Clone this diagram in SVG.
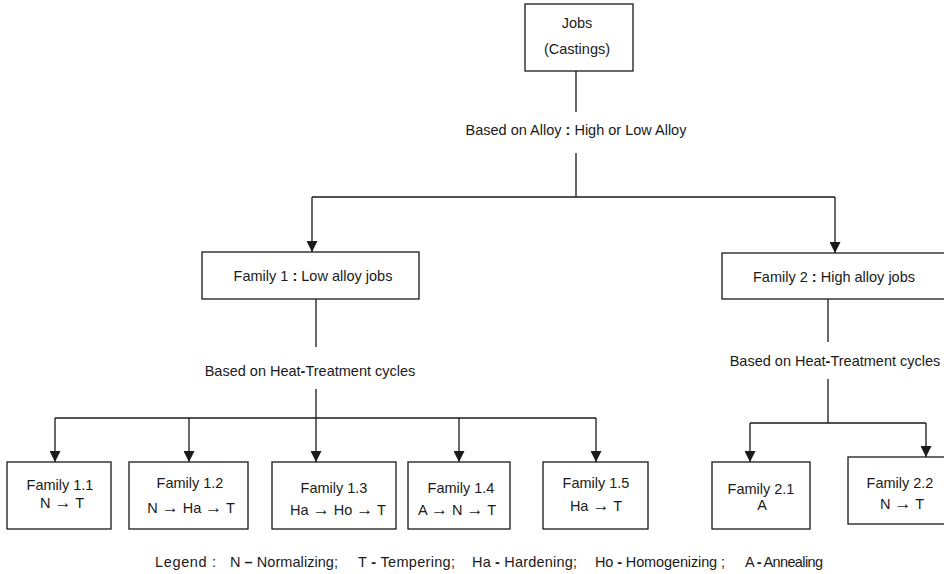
<svg xmlns="http://www.w3.org/2000/svg" width="944" height="574" viewBox="0 0 944 574">
<defs>
<style>
text{font-family:"Liberation Sans",Arial,sans-serif;font-size:14.5px;fill:#1a1a1a;text-anchor:middle}
.b{font-weight:bold}
.ar{font-family:"Liberation Serif",serif;font-size:17px}
.box{fill:#fff;stroke:#1a1a1a;stroke-width:1.3}
.ln{fill:none;stroke:#1a1a1a;stroke-width:1.3}
.legend text{text-anchor:start}
</style>
<marker id="ah" viewBox="0 0 10 10" refX="10" refY="5" markerWidth="11" markerHeight="11" markerUnits="userSpaceOnUse" orient="auto">
<path d="M0,0 L10,5 L0,10 z" fill="#1a1a1a"/>
</marker>
</defs>
<rect width="944" height="574" fill="#fff"/>

<g id="connectors">
<path class="ln" d="M576,71 V112"/>
<path class="ln" d="M576,153 V197 M312,197 H835"/>
<path class="ln" d="M312,197 V252" marker-end="url(#ah)"/>
<path class="ln" d="M835,197 V253" marker-end="url(#ah)"/>
<path class="ln" d="M316,299 V347"/>
<path class="ln" d="M316,389 V418 M55,418 H596"/>
<path class="ln" d="M55,418 V462" marker-end="url(#ah)"/>
<path class="ln" d="M189,418 V462" marker-end="url(#ah)"/>
<path class="ln" d="M316,418 V462" marker-end="url(#ah)"/>
<path class="ln" d="M459,418 V462" marker-end="url(#ah)"/>
<path class="ln" d="M596,418 V462" marker-end="url(#ah)"/>
<path class="ln" d="M828,299 V342"/>
<path class="ln" d="M828,379 V423 M750,423 H926"/>
<path class="ln" d="M750,423 V462" marker-end="url(#ah)"/>
<path class="ln" d="M926,423 V457" marker-end="url(#ah)"/>
</g>

<g id="label-alloy"><text x="576" y="135">Based on Alloy <tspan class="b">:</tspan> High or Low Alloy</text></g>
<g id="label-ht1"><text x="310" y="376">Based on Heat<tspan class="b">-</tspan>Treatment cycles</text></g>
<g id="label-ht2"><text x="835" y="366">Based on Heat<tspan class="b">-</tspan>Treatment cycles</text></g>

<g id="jobs">
<rect class="box" x="525" y="4" width="108" height="67"/>
<text x="577" y="28">Jobs</text>
<text x="577" y="54">(Castings)</text>
</g>

<g id="family1">
<rect class="box" x="202" y="252" width="217" height="47"/>
<text x="313" y="281">Family 1 <tspan class="b">:</tspan> Low alloy jobs</text>
</g>

<g id="family2">
<rect class="box" x="722" y="253" width="230" height="46"/>
<text x="834" y="282">Family 2 <tspan class="b">:</tspan> High alloy jobs</text>
</g>

<g id="family1-1">
<rect class="box" x="7" y="462" width="104" height="67"/>
<text x="60" y="490">Family 1.1</text>
<text x="62" y="508">N <tspan class="ar">→</tspan> T</text>
</g>

<g id="family1-2">
<rect class="box" x="129" y="462" width="119" height="67"/>
<text x="190" y="488">Family 1.2</text>
<text x="191" y="513">N <tspan class="ar">→</tspan> Ha <tspan class="ar">→</tspan> T</text>
</g>

<g id="family1-3">
<rect class="box" x="272" y="462" width="124" height="67"/>
<text x="334" y="493">Family 1.3</text>
<text x="338" y="515">Ha <tspan class="ar">→</tspan> Ho <tspan class="ar">→</tspan> T</text>
</g>

<g id="family1-4">
<rect class="box" x="408" y="462" width="102" height="67"/>
<text x="461" y="493">Family 1.4</text>
<text x="457" y="515">A <tspan class="ar">→</tspan> N <tspan class="ar">→</tspan> T</text>
</g>

<g id="family1-5">
<rect class="box" x="543" y="462" width="105" height="67"/>
<text x="596" y="488">Family 1.5</text>
<text x="596" y="511">Ha <tspan class="ar">→</tspan> T</text>
</g>

<g id="family2-1">
<rect class="box" x="712" y="462" width="98" height="67"/>
<text x="761" y="494">Family 2.1</text>
<text x="762" y="510">A</text>
</g>

<g id="family2-2">
<rect class="box" x="848" y="457" width="104" height="67"/>
<text x="900" y="488">Family 2.2</text>
<text x="902" y="509">N <tspan class="ar">→</tspan> T</text>
</g>

<g id="legend" class="legend">
<text x="155" y="567" textLength="61" lengthAdjust="spacing">Legend :</text>
<text x="230" y="567" textLength="108" lengthAdjust="spacing">N <tspan class="b">–</tspan> Normalizing;</text>
<text x="358" y="567" textLength="97" lengthAdjust="spacing">T <tspan class="b">-</tspan> Tempering;</text>
<text x="472" y="567" textLength="105" lengthAdjust="spacing">Ha <tspan class="b">-</tspan> Hardening;</text>
<text x="595" y="567" textLength="130" lengthAdjust="spacing">Ho <tspan class="b">-</tspan> Homogenizing ;</text>
<text x="745" y="567" textLength="78" lengthAdjust="spacing">A <tspan class="b">-</tspan> Annealing</text>
</g>
</svg>
